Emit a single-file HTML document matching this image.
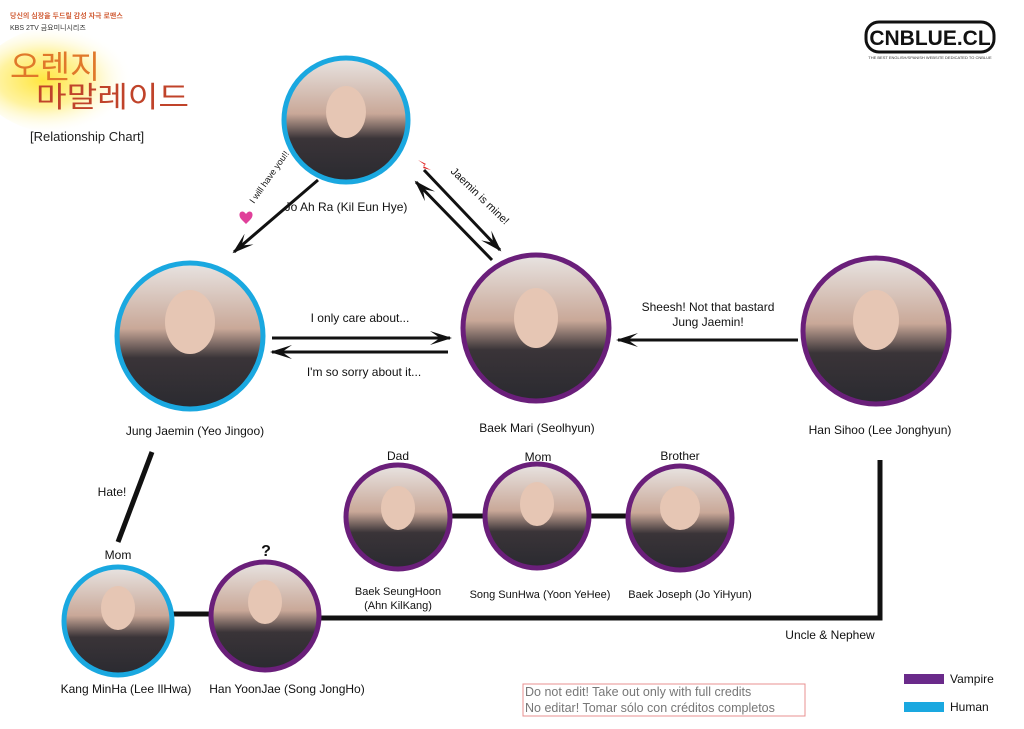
<!DOCTYPE html>
<html><head><meta charset="utf-8"><style>
body{margin:0;background:#fff;}
svg text{font-family:"Liberation Sans","Noto Sans CJK KR",sans-serif;}
</style></head><body>
<svg width="1024" height="724" viewBox="0 0 1024 724" xmlns="http://www.w3.org/2000/svg">
<defs>
<radialGradient id="glow" cx="0.35" cy="0.5" r="0.5"><stop offset="0" stop-color="#ffe640"/><stop offset="0.5" stop-color="#fff3a0"/><stop offset="1" stop-color="#fff" stop-opacity="0"/></radialGradient>
<radialGradient id="ph" cx="0.5" cy="0.4" r="0.65"><stop offset="0" stop-color="#f0dcd0"/><stop offset="0.3" stop-color="#d8b8a8"/><stop offset="0.55" stop-color="#6a5a58"/><stop offset="0.8" stop-color="#3a3840"/><stop offset="1" stop-color="#c8c8cc"/></radialGradient>
<linearGradient id="ph2" x1="0" y1="0" x2="0" y2="1"><stop offset="0" stop-color="#e8e4e2"/><stop offset="0.45" stop-color="#c9a898"/><stop offset="0.65" stop-color="#3a3438"/><stop offset="1" stop-color="#2a2a30"/></linearGradient>
<marker id="ah" markerWidth="22" markerHeight="14" refX="20" refY="7" orient="auto" markerUnits="userSpaceOnUse"><path d="M0,0 L22,7 L0,14 L10,7 Z" fill="#111"/></marker>
</defs>
<ellipse cx="70" cy="80" rx="90" ry="55" fill="url(#glow)"/>
<text x="10" y="18" font-size="7" fill="#d2603a" font-weight="bold">당신의 심장을 두드릴 감성 자극 로맨스</text>
<text x="10" y="30" font-size="7" fill="#333">KBS 2TV 금요미니시리즈</text>
<text x="10" y="78" font-size="32" fill="#e0782a" textLength="90" lengthAdjust="spacingAndGlyphs">오렌지</text>
<text x="36" y="107" font-size="29" fill="#c0432a" textLength="153" lengthAdjust="spacingAndGlyphs">마말레이드</text>
<text x="30" y="141" font-size="13" fill="#222">[Relationship Chart]</text>
<rect x="866" y="22" width="128" height="30" rx="13" fill="#fff" stroke="#111" stroke-width="3"/>
<text x="930" y="45" font-size="21" font-weight="bold" text-anchor="middle" fill="#111">CNBLUE.CL</text>
<text x="930" y="59" font-size="4" text-anchor="middle" fill="#333">THE BEST ENGLISH/SPANISH WEBSITE DEDICATED TO CNBLUE</text>

<g stroke="#111" stroke-width="3" fill="none">
<line x1="318" y1="180" x2="234" y2="252" marker-end="url(#ah)"/>
<line x1="424" y1="170" x2="500" y2="250" marker-end="url(#ah)"/>
<line x1="492" y1="260" x2="416" y2="182" marker-end="url(#ah)"/>
<line x1="272" y1="338" x2="450" y2="338" marker-end="url(#ah)"/>
<line x1="448" y1="352" x2="272" y2="352" marker-end="url(#ah)"/>
<line x1="798" y1="340" x2="618" y2="340" marker-end="url(#ah)"/>
</g>
<g stroke="#111" stroke-width="5" fill="none">
<line x1="152" y1="452" x2="118" y2="542"/>
<line x1="450" y1="516" x2="486" y2="516"/>
<line x1="590" y1="516" x2="628" y2="516"/>
<line x1="170" y1="614" x2="214" y2="614"/>
<polyline points="316,618 880,618 880,460"/>
</g>
<g stroke-width="5" fill="url(#ph2)">
<circle cx="346" cy="120" r="62" stroke="#1aa8e0"/>
<circle cx="190" cy="336" r="73" stroke="#1aa8e0"/>
<circle cx="536" cy="328" r="73" stroke="#6a1f7a"/>
<circle cx="876" cy="331" r="73" stroke="#6a1f7a"/>
<circle cx="398" cy="517" r="52" stroke="#6a1f7a"/>
<circle cx="537" cy="516" r="52" stroke="#6a1f7a"/>
<circle cx="680" cy="518" r="52" stroke="#6a1f7a"/>
<circle cx="118" cy="621" r="54" stroke="#1aa8e0"/>
<circle cx="265" cy="616" r="54" stroke="#6a1f7a"/>
</g>
<g fill="#e6c6b4">
<ellipse cx="346" cy="112" rx="20" ry="26"/>
<ellipse cx="190" cy="322" rx="25" ry="32"/>
<ellipse cx="536" cy="318" rx="22" ry="30"/>
<ellipse cx="876" cy="320" rx="23" ry="30"/>
<ellipse cx="398" cy="508" rx="17" ry="22"/>
<ellipse cx="537" cy="504" rx="17" ry="22"/>
<ellipse cx="680" cy="508" rx="20" ry="22"/>
<ellipse cx="118" cy="608" rx="17" ry="22"/>
<ellipse cx="265" cy="602" rx="17" ry="22"/>
</g>
<g font-size="12" fill="#111" text-anchor="middle">
<text x="346" y="211">Jo Ah Ra (Kil Eun Hye)</text>
<text x="195" y="435">Jung Jaemin (Yeo Jingoo)</text>
<text x="537" y="432">Baek Mari (Seolhyun)</text>
<text x="880" y="434">Han Sihoo (Lee Jonghyun)</text>
<text x="360" y="322">I only care about...</text>
<text x="364" y="376">I'm so sorry about it...</text>
<text x="708" y="311">Sheesh! Not that bastard</text>
<text x="708" y="326">Jung Jaemin!</text>
<text x="112" y="496">Hate!</text>
<text x="398" y="460">Dad</text>
<text x="538" y="461">Mom</text>
<text x="680" y="460">Brother</text>
<text x="118" y="559">Mom</text>
<text x="266" y="556" font-size="16" font-weight="bold">?</text>
<text x="398" y="595" font-size="11">Baek SeungHoon</text>
<text x="398" y="609" font-size="11">(Ahn KilKang)</text>
<text x="540" y="598" font-size="11">Song SunHwa (Yoon YeHee)</text>
<text x="690" y="598" font-size="11">Baek Joseph (Jo YiHyun)</text>
<text x="830" y="639">Uncle &amp; Nephew</text>
<text x="126" y="693">Kang MinHa (Lee IlHwa)</text>
<text x="287" y="693">Han YoonJae  (Song JongHo)</text>
</g>
<text x="0" y="0" font-size="9" fill="#111" transform="translate(254,204) rotate(-55)">I will have you!!</text>
<text x="0" y="0" font-size="11" fill="#111" transform="translate(450,172) rotate(44)">Jaemin is mine!</text>
<path d="M246,214 c-4,-6 -10,0 -4,6 l4,4 l4,-4 c6,-6 0,-12 -4,-6z" fill="#e0409a"/>
<path d="M418,160 l8,4 -3,2 8,4 -8,-2 2,-3z" fill="#e02020"/>
<rect x="523" y="684" width="282" height="32" fill="none" stroke="#e89090"/>
<text x="525" y="696" font-size="12.5" fill="#777">Do not edit! Take out only with full credits</text>
<text x="525" y="712" font-size="12.5" fill="#777">No editar! Tomar sólo con créditos completos</text>
<rect x="904" y="674" width="40" height="10" fill="#6a2a8a"/>
<text x="950" y="683" font-size="12" fill="#111">Vampire</text>
<rect x="904" y="702" width="40" height="10" fill="#1aa8e0"/>
<text x="950" y="711" font-size="12" fill="#111">Human</text>
</svg>
</body></html>
